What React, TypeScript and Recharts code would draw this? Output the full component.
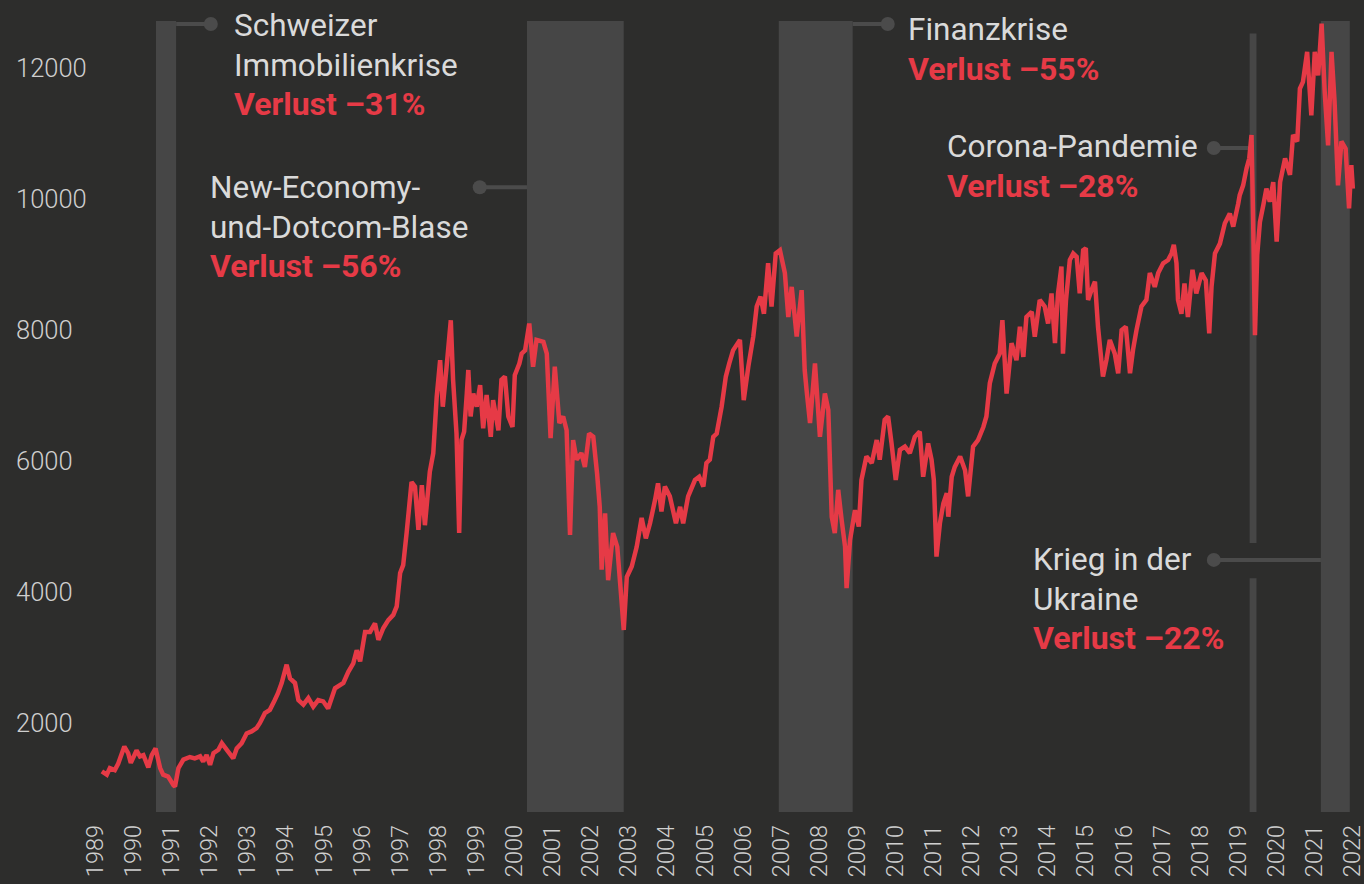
import React from "react";
import {
  LineChart,
  Line,
  XAxis,
  YAxis,
  ReferenceArea,
  ReferenceLine,
  ReferenceDot,
} from "recharts";

// time (decimal years as placed on the chart) and index level
const TIMES = [
  1989.18, 1989.31, 1989.39, 1989.52, 1989.61, 1989.77, 1989.87, 1989.94, 1990.09, 1990.18,
  1990.27, 1990.4, 1990.49, 1990.59, 1990.71, 1990.79, 1990.92, 1991.06, 1991.1, 1991.19,
  1991.32, 1991.49, 1991.62, 1991.76, 1991.84, 1991.93, 1992.02, 1992.11, 1992.24, 1992.33,
  1992.46, 1992.63, 1992.72, 1992.85, 1992.98, 1993.11, 1993.24, 1993.33, 1993.46, 1993.59,
  1993.72, 1993.8, 1993.9, 1994.03, 1994.12, 1994.25, 1994.34, 1994.47, 1994.6, 1994.73,
  1994.86, 1994.99, 1995.12, 1995.3, 1995.52, 1995.65, 1995.78, 1995.87, 1995.96, 1996.09,
  1996.22, 1996.35, 1996.44, 1996.57, 1996.7, 1996.83, 1996.92, 1997.01, 1997.09, 1997.18,
  1997.31, 1997.4, 1997.49, 1997.58, 1997.66, 1997.79, 1997.88, 1997.97, 1998.06, 1998.13,
  1998.23, 1998.34, 1998.4, 1998.49, 1998.56, 1998.62, 1998.69, 1998.76, 1998.8, 1998.86,
  1998.93, 1999.02, 1999.11, 1999.19, 1999.28, 1999.39, 1999.45, 1999.59, 1999.67, 1999.76,
  1999.85, 1999.96, 2000.02, 2000.14, 2000.2, 2000.29, 2000.4, 2000.5, 2000.59, 2000.77,
  2000.86, 2000.96, 2001.07, 2001.19, 2001.29, 2001.38, 2001.47, 2001.55, 2001.64, 2001.77,
  2001.86, 2001.97, 2002.08, 2002.18, 2002.25, 2002.3, 2002.39, 2002.47, 2002.6, 2002.71,
  2002.82, 2002.88, 2002.96, 2003.09, 2003.22, 2003.35, 2003.46, 2003.57, 2003.7, 2003.78,
  2003.87, 2003.96, 2004.09, 2004.25, 2004.36, 2004.44, 2004.57, 2004.75, 2004.86, 2004.97,
  2005.05, 2005.14, 2005.23, 2005.32, 2005.45, 2005.56, 2005.65, 2005.75, 2005.93, 2006.03,
  2006.15, 2006.28, 2006.37, 2006.47, 2006.56, 2006.67, 2006.76, 2006.87, 2006.98, 2007.11,
  2007.2, 2007.29, 2007.42, 2007.55, 2007.63, 2007.68, 2007.77, 2007.9, 2008.03, 2008.16,
  2008.25, 2008.34, 2008.42, 2008.51, 2008.6, 2008.69, 2008.73, 2008.82, 2008.95, 2009.05,
  2009.12, 2009.25, 2009.39, 2009.52, 2009.6, 2009.73, 2009.82, 2009.91, 2010.02, 2010.13,
  2010.26, 2010.39, 2010.52, 2010.65, 2010.74, 2010.87, 2010.96, 2011.02, 2011.09, 2011.18,
  2011.27, 2011.36, 2011.4, 2011.49, 2011.57, 2011.71, 2011.84, 2011.92, 2012.05, 2012.18,
  2012.32, 2012.4, 2012.49, 2012.62, 2012.75, 2012.82, 2012.93, 2013.06, 2013.19, 2013.28,
  2013.37, 2013.45, 2013.59, 2013.67, 2013.8, 2013.93, 2014.02, 2014.11, 2014.2, 2014.28,
  2014.37, 2014.41, 2014.49, 2014.59, 2014.68, 2014.77, 2014.85, 2014.94, 2015.01, 2015.07,
  2015.16, 2015.25, 2015.33, 2015.46, 2015.55, 2015.64, 2015.77, 2015.86, 2015.95, 2016.06,
  2016.17, 2016.25, 2016.34, 2016.47, 2016.6, 2016.69, 2016.82, 2016.91, 2017.04, 2017.17,
  2017.26, 2017.32, 2017.39, 2017.43, 2017.52, 2017.6, 2017.69, 2017.81, 2017.91, 2018.05,
  2018.16, 2018.25, 2018.31, 2018.4, 2018.53, 2018.66, 2018.79, 2018.88, 2019.01, 2019.05,
  2019.14, 2019.23, 2019.3, 2019.36, 2019.4, 2019.45, 2019.51, 2019.58, 2019.67, 2019.75,
  2019.84, 2019.93, 2020.02, 2020.11, 2020.24, 2020.37, 2020.45, 2020.56, 2020.63, 2020.71,
  2020.82, 2020.93, 2021.02, 2021.11, 2021.2, 2021.28, 2021.37, 2021.46, 2021.54, 2021.63,
  2021.72, 2021.83, 2021.92, 2021.98, 2022.02,
];

const LEVELS = [
  1260, 1210, 1310, 1280, 1380, 1640, 1540, 1390, 1580, 1490,
  1510, 1320, 1510, 1610, 1310, 1210, 1180, 1050, 1030, 1310,
  1440, 1480, 1460, 1490, 1410, 1510, 1360, 1540, 1590, 1690,
  1590, 1460, 1610, 1690, 1840, 1870, 1920, 2000, 2150, 2200,
  2350, 2450, 2610, 2890, 2680, 2610, 2350, 2280, 2380, 2250,
  2350, 2330, 2220, 2530, 2610, 2780, 2910, 3110, 2940, 3390,
  3390, 3520, 3270, 3450, 3570, 3650, 3780, 4290, 4410, 4900,
  5680, 5610, 4950, 5630, 5020, 5840, 6120, 6980, 7540, 6830,
  7440, 8150, 7240, 6420, 4900, 6320, 6450, 7030, 7390, 6680,
  7030, 6830, 7160, 6500, 7010, 6370, 6930, 6470, 7240, 7290,
  6680, 6520, 7310, 7490, 7640, 7690, 8100, 7440, 7850, 7820,
  7640, 6350, 7440, 6580, 6680, 6470, 4870, 6320, 6020, 6120,
  5910, 6420, 6370, 5810, 5300, 4340, 5200, 4180, 4900, 4690,
  3880, 3420, 4230, 4390, 4690, 5130, 4820, 5050, 5400, 5660,
  5230, 5610, 5460, 5050, 5300, 5050, 5460, 5710, 5760, 5610,
  5970, 6020, 6370, 6420, 6830, 7290, 7490, 7690, 7850, 6930,
  7440, 7900, 8360, 8510, 8250, 9020, 8360, 9170, 9220, 8870,
  8200, 8660, 7900, 8610, 7390, 7080, 6580, 7490, 6370, 7030,
  6780, 5150, 4900, 5560, 5100, 4690, 4060, 4790, 5250, 5000,
  5710, 6070, 5970, 6320, 6020, 6630, 6680, 6270, 5710, 6170,
  6220, 6120, 6370, 6450, 5760, 6270, 6020, 5710, 4540, 5050,
  5350, 5510, 5150, 5760, 5910, 6070, 5860, 5460, 6220, 6320,
  6520, 6680, 7190, 7490, 7640, 8150, 7030, 7800, 7540, 8050,
  7590, 8200, 8280, 7900, 8460, 8360, 8100, 8560, 7800, 8560,
  8970, 7640, 8460, 9070, 9170, 9120, 8560, 9220, 9250, 8460,
  8610, 8740, 8050, 7290, 7540, 7850, 7640, 7340, 8000, 8050,
  7340, 7700, 8000, 8360, 8460, 8870, 8660, 8870, 9020, 9070,
  9170, 9300, 9020, 8460, 8250, 8710, 8200, 8920, 8560, 8870,
  8760, 7950, 8660, 9170, 9320, 9630, 9780, 9580, 9930, 10060,
  10210, 10470, 10620, 10980, 9760, 7920, 9150, 9650, 9910, 10160,
  9960, 10260, 9350, 10260, 10620, 10370, 10980, 10880, 11690, 11790,
  12250, 11280, 12250, 11890, 12680, 11640, 10820, 12250, 11490, 10210,
  10880, 10770, 9860, 10520, 10160,
];

const YEAR_TICKS = [
  1989, 1990, 1991, 1992, 1993, 1994, 1995, 1996, 1997, 1998, 1999, 2000,
  2001, 2002, 2003, 2004, 2005, 2006, 2007, 2008, 2009, 2010, 2011, 2012,
  2013, 2014, 2015, 2016, 2017, 2018, 2019, 2020, 2021, 2022,
];
const VALUE_TICKS = [2000, 4000, 6000, 8000, 10000, 12000];

// crisis periods [start, end]
const CRISES = [
  [1990.6, 1991.13],
  [2000.34, 2002.88],
  [2006.95, 2008.89],
  [2021.18, 2021.94],
];
const CORONA = [2019.31, 2019.49];

const data = TIMES.map((t, i) => ({ t, v: LEVELS[i] }));

const BG = "#2d2d2c";
const BAND = "#464646";
const CONNECT = "#4b4b4b";
const RED = "#e63a46";
const TXT = "#dadada";
const FONT = "Roboto, 'Noto Sans', sans-serif";

const YTick = (props: any) => {
  const { y, payload } = props;
  return (
    <text x={16} y={y} dy="0.36em" textAnchor="start" fill="#cfcfcf" fontSize={25.5} fontWeight={300} fontFamily={FONT}>
      {payload.value}
    </text>
  );
};

const XTick = (props: any) => {
  const { x, y, payload } = props;
  return (
    <text
      transform={`translate(${x},${y}) rotate(-90)`}
      textAnchor="end"
      dy="0.34em"
      fill="#cfcfcf"
      fontSize={23.5}
      fontWeight={300}
      fontFamily={FONT}
    >
      {payload.value}
    </text>
  );
};

const TOP_Y = 12675;

const Note = ({ x, y, white, red }: { x: number; y: number; white: string[]; red: string }) => (
  <g fontFamily={FONT}>
    {white.map((w, i) => (
      <text key={i} x={x} y={y + i * 39.5} fill={TXT} fontSize={31.5}>
        {w}
      </text>
    ))}
    <text x={x} y={y + white.length * 39.5} fill={RED} fontWeight={700} fontSize={32}>
      {red}
    </text>
  </g>
);

export default function App() {
  return (
    <div style={{ position: "absolute", left: 0, top: 0, width: 1364, height: 884, background: BG, overflow: "hidden" }}>
      <LineChart width={1364} height={884} data={data} margin={{ top: 21, right: 10, bottom: 0, left: 0 }}>
        <XAxis
          type="number"
          dataKey="t"
          domain={[1989, 2022.05]}
          ticks={YEAR_TICKS}
          interval={0}
          tick={<XTick />}
          axisLine={false}
          tickLine={false}
          tickSize={0}
          tickMargin={13}
          height={72}
        />
        <YAxis
          type="number"
          domain={[640, 12720]}
          ticks={VALUE_TICKS}
          tick={<YTick />}
          axisLine={false}
          tickLine={false}
          width={95}
          allowDataOverflow
        />
        {CRISES.map(([a, b], i) => (
          <ReferenceArea key={i} x1={a} x2={b} fill={BAND} fillOpacity={1} stroke="none" ifOverflow="hidden" />
        ))}
        <ReferenceArea x1={CORONA[0]} x2={CORONA[1]} y1={4750} y2={12530} fill={BAND} fillOpacity={1} stroke="none" />
        <ReferenceArea x1={CORONA[0]} x2={CORONA[1]} y1={640} y2={4210} fill={BAND} fillOpacity={1} stroke="none" />

        <ReferenceLine segment={[{ x: 1991.13, y: TOP_Y }, { x: 1992.04, y: TOP_Y }]} stroke={CONNECT} strokeWidth={4} />
        <ReferenceDot x={1992.04} y={TOP_Y} r={7} fill={CONNECT} stroke="none" />
        <ReferenceLine segment={[{ x: 1999.1, y: 10180 }, { x: 2000.34, y: 10180 }]} stroke={CONNECT} strokeWidth={4} />
        <ReferenceDot x={1999.1} y={10180} r={7} fill={CONNECT} stroke="none" />
        <ReferenceLine segment={[{ x: 2008.89, y: TOP_Y }, { x: 2009.81, y: TOP_Y }]} stroke={CONNECT} strokeWidth={4} />
        <ReferenceDot x={2009.81} y={TOP_Y} r={7} fill={CONNECT} stroke="none" />
        <ReferenceLine segment={[{ x: 2018.37, y: 10780 }, { x: 2019.31, y: 10780 }]} stroke={CONNECT} strokeWidth={4} />
        <ReferenceDot x={2018.37} y={10780} r={7} fill={CONNECT} stroke="none" />
        <ReferenceLine segment={[{ x: 2018.37, y: 4490 }, { x: 2021.18, y: 4490 }]} stroke={CONNECT} strokeWidth={4} />
        <ReferenceDot x={2018.37} y={4490} r={7} fill={CONNECT} stroke="none" />

        <Line
          type="linear"
          dataKey="v"
          stroke={RED}
          strokeWidth={4.5}
          strokeLinejoin="miter"
          strokeMiterlimit={2}
          dot={false}
          activeDot={false}
          isAnimationActive={false}
        />
      </LineChart>
      <svg width={1364} height={884} style={{ position: "absolute", left: 0, top: 0, pointerEvents: "none" }}>
        <Note x={234} y={36} white={["Schweizer", "Immobilienkrise"]} red="Verlust –31%" />
        <Note x={210} y={198} white={["New-Economy-", "und-Dotcom-Blase"]} red="Verlust –56%" />
        <Note x={908} y={40} white={["Finanzkrise"]} red="Verlust –55%" />
        <Note x={947} y={157} white={["Corona-Pandemie"]} red="Verlust –28%" />
        <Note x={1033} y={570} white={["Krieg in der", "Ukraine"]} red="Verlust –22%" />
      </svg>
    </div>
  );
}
